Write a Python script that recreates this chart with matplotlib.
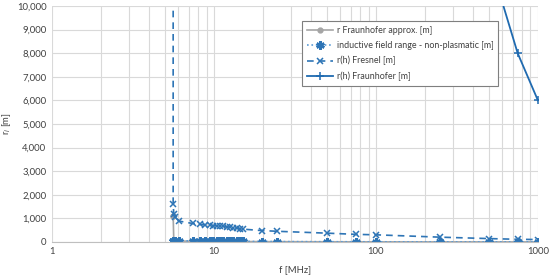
import matplotlib
matplotlib.use('Agg')
import matplotlib.pyplot as plt
from matplotlib.ticker import FuncFormatter, LogLocator, NullFormatter, FixedLocator

plt.rcParams['font.family'] = ['Lato', 'DejaVu Sans']

# frequencies [MHz] shared by the near-field series
freq = [5.6, 5.6, 5.65, 5.75, 6.1, 7.4, 8.2, 8.8, 9.4, 9.9, 10.4, 10.9, 11.4, 12.0,
        12.6, 13.1, 13.9, 14.5, 15.1, 19.8, 24.5, 50, 75, 100, 250, 500, 750, 1000]

# r Fraunhofer approx. [m] (grey)
r_fraun_approx = [1100, 1100, 40, 38, 35, 30, 28, 26, 24, 23, 22, 21, 20, 19,
                  18, 17, 16, 15, 14, 11, 9, 4, 3, 2, 1, 0.5, 0.4, 0.3]
# inductive field range - non-plasmatic [m]
r_inductive = [54, 54, 53, 52, 49, 40, 37, 34, 32, 30, 29, 28, 26, 25,
               24, 23, 22, 21, 20, 15, 12, 6, 4, 3, 1.2, 0.6, 0.4, 0.3]
# r(h) Fresnel [m]
r_fresnel = [20000, 1600, 1180, 1060, 880, 780, 740, 720, 700, 690, 680, 670, 660, 640,
             620, 600, 580, 560, 540, 480, 450, 370, 320, 300, 200, 140, 110, 100]

# r(h) Fraunhofer [m]
freq_fh = [250, 500, 750, 1000]
r_fraunhofer = [20000, 12000, 8000, 6000]

BLUE = '#2E75B6'
LIGHT_BLUE = '#5B9BD5'
GREY = '#A5A5A5'

fig = plt.figure(figsize=(5.5, 2.79), dpi=100)
ax = fig.add_axes([0.0945, 0.133, 0.8835, 0.8455])

ax.plot(freq, r_fraun_approx, color=GREY, marker='o', markersize=3.5, linewidth=1.2,
        label='r Fraunhofer approx. [m]')
ax.plot(freq, r_inductive, color=LIGHT_BLUE, linestyle=':', linewidth=1.2,
        marker=(6, 2, 0), markersize=6, markeredgecolor=BLUE, markeredgewidth=1.8,
        label='inductive field range - non-plasmatic [m]')
ax.plot(freq, r_fresnel, color=BLUE, linestyle=(0, (4, 3)), linewidth=1.2,
        marker='x', markersize=5, markeredgewidth=1.1,
        label='r(h) Fresnel [m]')
ax.plot(freq_fh, r_fraunhofer, color='#1F6AB0', linewidth=1.3,
        marker='+', markersize=5.5, markeredgewidth=1.1,
        label='r(h) Fraunhofer [m]')

ax.set_xscale('log')
ax.set_xlim(1, 1000)
ax.set_ylim(0, 10000)

ax.xaxis.set_major_locator(FixedLocator([1, 10, 100, 1000]))
ax.xaxis.set_major_formatter(FuncFormatter(lambda v, p: f'{v:g}'))
ax.xaxis.set_minor_locator(LogLocator(base=10, subs=range(2, 10)))
ax.xaxis.set_minor_formatter(NullFormatter())
ax.set_yticks(range(0, 10001, 1000))
ax.yaxis.set_major_formatter(FuncFormatter(lambda v, p: f'{int(v):,}'))

ax.grid(True, which='both', axis='x', color='#D9D9D9', linewidth=0.8)
ax.grid(True, which='major', axis='y', color='#D9D9D9', linewidth=0.8)
ax.set_axisbelow(True)

for side in ['top', 'right', 'left']:
    ax.spines[side].set_visible(False)
ax.spines['bottom'].set_color('#BFBFBF')
ax.tick_params(which='both', length=0, labelsize=6.8, colors='#404040', pad=4)

ax.set_xlabel('f [MHz]', fontsize=6.8, color='#404040', labelpad=6)
ax.set_ylabel('r$_i$ [m]', fontsize=6.8, color='#404040', labelpad=3)

leg = ax.legend(loc='upper left', bbox_to_anchor=(0.514, 0.937), fontsize=6.4,
                frameon=True, fancybox=False, edgecolor='#7F7F7F', framealpha=1,
                handlelength=3.0, handletextpad=0.4, borderpad=0.55,
                labelspacing=0.7, borderaxespad=0)
leg.get_frame().set_linewidth(0.8)
for t in leg.get_texts():
    t.set_color('#404040')

fig.savefig('out.png', dpi=100)
